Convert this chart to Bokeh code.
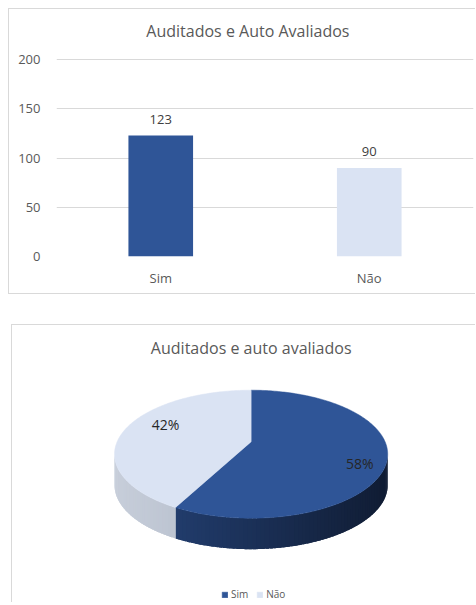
import math
from bokeh.plotting import figure
from bokeh.models import (FactorRange, Range1d, FixedTicker, Label, Legend,
                          LegendItem, Spacer, ColumnDataSource)
from bokeh.layouts import column, row
from bokeh.core.properties import value
from bokeh.embed import file_html
from bokeh.resources import INLINE

# ---------------- data ----------------
categories = ["Sim", "Não"]
values = [123, 90]
bar_colors = ["#2F5597", "#DAE3F3"]
side_colors = [("#26457C", "#101C33"), ("#C7CEDA", "#98A3B4")]
y_ticks = [0, 50, 100, 150, 200]
bar_title = "Auditados e Auto Avaliados"
pie_title = "Auditados e auto avaliados"

FONT = "Open Sans"
GRAY = "#595959"
BORDER = "1px solid #D9D9D9"

# ---------------- bar chart ----------------
# frame top is extended above 200 so the chart title sits inside the frame
Y_TOP = 241
p1 = figure(x_range=FactorRange(*categories), y_range=Range1d(0, Y_TOP),
            width=467, height=286, output_backend="svg", toolbar_location=None,
            title=None, min_border_left=47, min_border_right=3,
            min_border_top=10, min_border_bottom=39)
p1.styles = {"border-top": BORDER, "border-left": BORDER, "border-bottom": BORDER}
p1.outline_line_color = None
p1.xgrid.grid_line_color = None
p1.ygrid.grid_line_color = "#D9D9D9"
p1.yaxis.ticker = FixedTicker(ticks=y_ticks)
for ax in (p1.xaxis[0], p1.yaxis[0]):
    ax.axis_line_color = None
    ax.major_tick_line_color = None
    ax.minor_tick_line_color = None
    ax.major_tick_in = 0
    ax.major_tick_out = 0
    ax.minor_tick_out = 0
    ax.major_label_text_font = FONT
    ax.major_label_text_font_size = "13px"
    ax.major_label_text_color = GRAY
p1.yaxis.major_label_standoff = 16
p1.xaxis.major_label_standoff = 12

src = ColumnDataSource(dict(cat=categories, val=values, color=bar_colors,
                            lab=[str(v) for v in values]))
p1.vbar(x="cat", top="val", width=0.31, fill_color="color", line_color=None, source=src)
p1.text(x="cat", y="val", text="lab", source=src, text_align="center",
        text_baseline="middle", y_offset=-16, text_font=value(FONT),
        text_font_size="13px", text_color="#404040")
p1.add_layout(Label(x=0.918, y=229.8, text=bar_title, text_align="center",
                    text_baseline="middle", text_font=FONT, text_font_size="16px",
                    text_color=GRAY))

# ---------------- 3D pie chart ----------------
PW, PH = 464, 278
p2 = figure(x_range=Range1d(0, PW), y_range=Range1d(PH, 0), width=PW, height=PH,
            output_backend="svg", toolbar_location=None, title=None, min_border=0,
            x_axis_location=None, y_axis_location=None)
p2.styles = {"border-top": BORDER, "border-left": BORDER}
p2.outline_line_color = None
p2.grid.visible = False

CX, CY = 238.6, 116.3
RX, RY, K, DEPTH = 134.0, 61.6, 0.1936, 31.0


def proj(theta, r=1.0):
    t = math.radians(theta)
    X = r * math.sin(t)
    Z = -r * math.cos(t)
    w = 1.0 - K * Z
    return CX + RX * X / w, CY + RY * Z / w


def arc(a0, a1, step=1.0):
    n = max(2, int(math.ceil((a1 - a0) / step)) + 1)
    return [a0 + (a1 - a0) * i / (n - 1) for i in range(n)]


def hex2rgb(h):
    h = h.lstrip("#")
    return [int(h[i:i + 2], 16) for i in (0, 2, 4)]


def mix(c0, c1, t):
    a, b = hex2rgb(c0), hex2rgb(c1)
    return "#%02x%02x%02x" % tuple(int(round(a[i] + (b[i] - a[i]) * t)) for i in range(3))


total = float(sum(values))
bounds = []
cum = 0.0
for v in values:
    a0 = 360.0 * cum / total
    cum += v
    bounds.append((a0, 360.0 * cum / total))

vis0 = math.degrees(math.acos(-K))
vis1 = 360.0 - vis0
ext = RX / math.sqrt(1 - K * K)
xmin, xmax = CX - ext, CX + ext

# side walls (gradient strips, slightly overlapping to avoid seams)
sxs, sys_, scol = [], [], []
for (a0, a1), (cl, cr) in zip(bounds, side_colors):
    lo, hi = max(a0, vis0), min(a1, vis1)
    if hi <= lo:
        continue
    pts = arc(lo, hi, 1.5)
    for t0, t1 in zip(pts[:-1], pts[1:]):
        t1e = min(hi, t1 + 1.2)
        seg = arc(t0, t1e, 0.5)
        top = [proj(a) for a in seg]
        xs = [p[0] for p in top] + [p[0] for p in reversed(top)]
        ys = [p[1] for p in top] + [p[1] + DEPTH for p in reversed(top)]
        sxs.append(xs)
        sys_.append(ys)
        xm = (proj(t0)[0] + proj(t1)[0]) / 2
        tt = (xm - xmin) / (xmax - xmin)
        scol.append(mix(cl, cr, min(1, max(0, tt))))
p2.patches(sxs, sys_, fill_color=scol, line_color=None)

# top faces
items = []
for (a0, a1), col, name in zip(bounds, bar_colors, categories):
    pts = [proj(a) for a in arc(a0, a1, 1.0)]
    xs = [CX] + [p[0] for p in pts]
    ys = [CY] + [p[1] for p in pts]
    r = p2.patch(xs, ys, fill_color=col, line_color=col, line_width=0.5)
    items.append(LegendItem(label=name, renderers=[r]))

# data labels
label_shift = 10.0
label_r = [0.83, 0.74]
lx, ly, lt = [], [], []
for (a0, a1), v, rr in zip(bounds, values, label_r):
    x, y = proj((a0 + a1) / 2 + label_shift, rr)
    lx.append(x)
    ly.append(y)
    lt.append("%d%%" % round(100 * v / total))
p2.text(x=lx, y=ly, text=lt, text_align="center", text_baseline="middle",
        text_font=value(FONT), text_font_size="14px", text_color="#262626")

p2.add_layout(Label(x=238.7, y=22, text=pie_title, text_align="center",
                    text_baseline="middle", text_font=FONT, text_font_size="16px",
                    text_color=GRAY))

legend = Legend(items=items, orientation="horizontal", location=(209, 2),
                glyph_width=7, glyph_height=7, label_height=10, label_width=10,
                label_standoff=3, spacing=8, padding=0, margin=0,
                label_text_font=FONT, label_text_font_size="10px",
                label_text_color=GRAY, border_line_color=None,
                background_fill_alpha=0)
p2.add_layout(legend, "center")

layout = column(Spacer(height=8), row(Spacer(width=8), p1),
                Spacer(height=30), row(Spacer(width=11), p2))

open("out.html", "w").write(file_html(layout, INLINE))
